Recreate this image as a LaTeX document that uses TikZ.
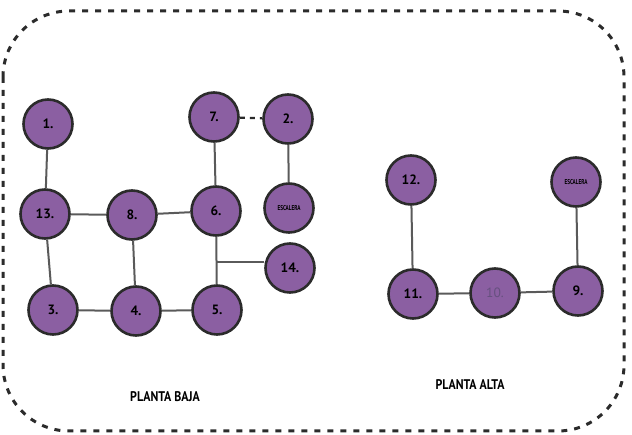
\documentclass[tikz,border=0pt]{standalone}
\usepackage{fontspec}
\setmainfont{PT Sans}
\usetikzlibrary{calc}
\definecolor{nodefill}{HTML}{8B5FA2}
\definecolor{nodeline}{HTML}{2B2B2B}
\definecolor{edgecol}{HTML}{5A5A5A}
\definecolor{tencol}{HTML}{66507F}
\begin{document}
\begin{tikzpicture}[x=1pt,y=-1pt,
  room/.style={circle,draw=nodeline,fill=nodefill,line width=2.6pt,minimum size=49pt,inner sep=0pt,
    font=\fontsize{13.5}{13.5}\selectfont\bfseries},
  esc/.style={room,font=\fontsize{7}{7}\selectfont\bfseries},
  link/.style={draw=edgecol,line width=2pt},
  plan/.style={font=\fontsize{14}{14}\selectfont\bfseries}]
\useasboundingbox (0,0) rectangle (632,435);
\draw[draw=nodeline,line width=3pt,dash pattern=on 6pt off 7pt,rounded corners=66pt] (3,11) rectangle (624,431);
% planta baja
\node[room] (n1) at (48,124) {1.};
\node[room] (n7) at (214,117) {7.};
\node[room] (n2) at (288,119) {2.};
\node[room] (n13) at (45,214) {13.};
\node[room] (n8) at (132,215) {8.};
\node[room] (n6) at (216,211) {6.};
\node[esc] (e1) at (289,208) {\scalebox{0.75}[1]{ESCALERA}};
\node[room] (n14) at (290,268) {14.};
\node[room] (n3) at (53,310) {3.};
\node[room] (n4) at (136,311) {4.};
\node[room] (n5) at (217,310) {5.};
% planta alta
\node[room] (n12) at (411,180) {12.};
\node[esc] (e2) at (576,182) {\scalebox{0.75}[1]{ESCALERA}};
\node[room] (n11) at (413,294) {11.};
\node[room,text=tencol,font=\fontsize{13.5}{13.5}\selectfont] (n10) at (495,293) {10.};
\node[room] (n9) at (578,291) {9.};
% connectors
\draw[link] (n1) -- (n13);
\draw[link] (n13) -- (n8);
\draw[link] (n8) -- (n6);
\draw[link] (n7) -- (n6);
\draw[link] (n2) -- (e1);
\draw[link] (n13) -- (n3);
\draw[link] (n8) -- (n4);
\draw[link] (n3) -- (n4);
\draw[link] (n4) -- (n5);
\draw[link] (n6) -- (n5);
\coordinate (br) at (217,262);
\draw[link] (br) -- (br -| n14.west);
\draw[draw=nodeline,line width=2.2pt,dash pattern=on 5pt off 5pt] (n7) -- (n2);
\draw[link] (n12) -- (n11);
\draw[link] (n11) -- (n10);
\draw[link] (n10) -- (n9);
\draw[link] (e2) -- (n9);
% labels
\node[plan] (pb) at (165,397) {\scalebox{0.85}[1]{PLANTA BAJA}};
\node[plan] (pa) at (470,385) {\scalebox{0.85}[1]{PLANTA ALTA}};
\end{tikzpicture}
\end{document}
